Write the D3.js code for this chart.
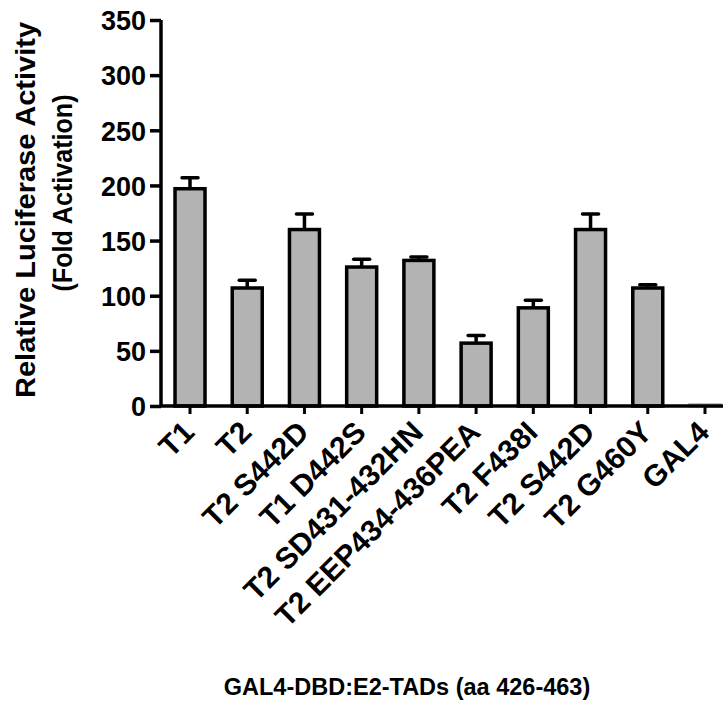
<!DOCTYPE html>
<html>
<head>
<meta charset="utf-8">
<script src="https://cdn.jsdelivr.net/npm/d3@7"></script>
<style>
  body { margin: 0; background: #fff; }
  svg text { font-family: "Liberation Sans", Arial, sans-serif; font-weight: bold; fill: #000; }
</style>
</head>
<body>
<div id="chart"></div>
<script>
// values
const constructs = ['T1', 'T2', 'T2 S442D', 'T1 D442S', 'T2 SD431-432HN', 'T2 EEP434-436PEA',
                    'T2 F438I', 'T2 S442D ', 'T2 G460Y', 'GAL4'];
const means = [197, 107, 160, 126, 132, 57, 89, 160, 107, 1];
const errs = [10, 7, 14, 7, 3, 7, 7, 14, 3, 0];
const yTicks = [0, 50, 100, 150, 200, 250, 300, 350];

const width = 728, height = 709;
const x0 = 161, xEnd = 723, yBase = 406, yTop = 20;

const svg = d3.select('#chart').append('svg')
    .attr('width', width)
    .attr('height', height);

const x = d3.scaleBand()
    .domain(d3.range(constructs.length))
    .range([x0, 734])
    .paddingInner(0.476)
    .paddingOuter(0.245);

const y = d3.scaleLinear()
    .domain([0, 350])
    .range([yBase, yTop]);

// bars
svg.selectAll('rect.bar')
    .data(means)
    .enter()
    .append('rect')
    .attr('class', 'bar')
    .attr('x', (d, i) => x(i))
    .attr('y', d => y(d))
    .attr('width', x.bandwidth())
    .attr('height', d => yBase - y(d))
    .attr('fill', '#b3b3b3')
    .attr('stroke', d => d < 3 ? '#b3b3b3' : '#000')
    .attr('stroke-width', 3.5);

// error bars (upper only)
const eb = svg.selectAll('g.err')
    .data(means)
    .enter()
    .append('g')
    .attr('class', 'err')
    .filter((d, i) => errs[i] > 0);

eb.append('line')
    .attr('x1', (d, i) => x(i) + x.bandwidth() / 2)
    .attr('x2', (d, i) => x(i) + x.bandwidth() / 2)
    .attr('y1', d => y(d))
    .attr('y2', (d, i) => y(d + errs[i]))
    .attr('stroke', '#000')
    .attr('stroke-width', 3.5);

eb.append('line')
    .attr('x1', (d, i) => x(i) + x.bandwidth() / 2 - 8)
    .attr('x2', (d, i) => x(i) + x.bandwidth() / 2 + 8)
    .attr('y1', (d, i) => y(d + errs[i]))
    .attr('y2', (d, i) => y(d + errs[i]))
    .attr('stroke', '#000')
    .attr('stroke-width', 3.5)
    .attr('stroke-linecap', 'round');

// y axis
const yAxis = svg.append('g')
    .attr('transform', `translate(${x0},0)`)
    .call(d3.axisLeft(y).tickValues(yTicks).tickSize(11).tickPadding(4).tickSizeOuter(0));
yAxis.select('.domain').attr('stroke-width', 3.5).attr('d', `M0,${yTop}V${yBase}`);
yAxis.selectAll('.tick line').attr('stroke-width', 3.5);
yAxis.selectAll('.tick text').attr('font-size', 27).attr('font-family', null).attr('dy', '0.36em');

// x axis
const xAxis = svg.append('g')
    .attr('transform', `translate(0,${yBase})`)
    .call(d3.axisBottom(x).tickSize(8).tickFormat(i => constructs[i]).tickSizeOuter(0));
xAxis.select('.domain').attr('stroke-width', 3.5).attr('d', `M${x0 - 1.75},0H${xEnd}`);
xAxis.selectAll('.tick line').attr('stroke-width', 3);
xAxis.selectAll('.tick text')
    .attr('font-size', 30)
    .attr('font-family', null)
    .attr('text-anchor', 'end')
    .attr('dy', null)
    .attr('y', 0)
    .attr('transform', 'translate(6,28) rotate(-45)');

// axis titles
svg.append('text')
    .attr('transform', 'translate(35,210) rotate(-90)')
    .attr('text-anchor', 'middle')
    .attr('font-size', 27)
    .attr('textLength', 376)
    .attr('lengthAdjust', 'spacingAndGlyphs')
    .text('Relative Luciferase Activity');

svg.append('text')
    .attr('transform', 'translate(72,193) rotate(-90)')
    .attr('text-anchor', 'middle')
    .attr('font-size', 27)
    .attr('textLength', 197)
    .attr('lengthAdjust', 'spacingAndGlyphs')
    .text('(Fold Activation)');

svg.append('text')
    .attr('x', 407)
    .attr('y', 695)
    .attr('text-anchor', 'middle')
    .attr('font-size', 23.5)
    .text('GAL4-DBD:E2-TADs (aa 426-463)');
</script>
</body>
</html>
